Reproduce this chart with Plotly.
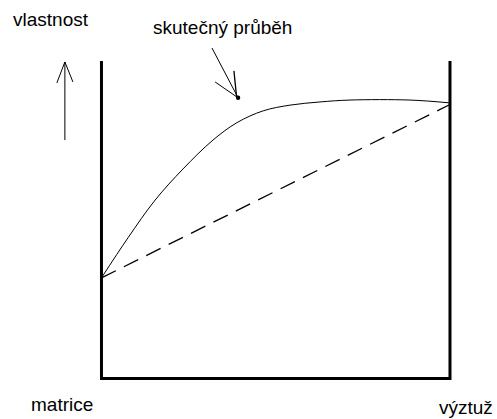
import plotly.graph_objects as go

# --- data (x: podíl výztuže 0..1, y: vlastnost v libovolných jednotkách) ---
real_x = [0.0, 0.076, 0.154, 0.234, 0.320, 0.389, 0.464, 0.541, 0.627, 0.713, 0.885, 1.0]
real_y = [3.17, 4.43, 5.62, 6.60, 7.51, 8.06, 8.43, 8.61, 8.71, 8.77, 8.77, 8.68]
mix_x = [0.0, 1.0]
mix_y = [3.17, 8.63]

label_y = "vlastnost"
label_curve = "skutečný průběh"
label_left = "matrice"
label_right = "výztuž"

FONT = "Liberation Sans, Arial, sans-serif"

fig = go.Figure()

fig.add_trace(go.Scatter(
    x=real_x, y=real_y, mode="lines",
    line=dict(color="black", width=1, shape="spline", smoothing=1.0),
    hoverinfo="skip", showlegend=False))

fig.add_trace(go.Scatter(
    x=mix_x, y=mix_y, mode="lines",
    line=dict(color="black", width=1.3, dash="16px,9px"),
    hoverinfo="skip", showlegend=False))

shapes = [
    # frame (left, bottom, right)
    dict(type="path", path="M 0,10 L 0,0 L 1,0 L 1,10",
         line=dict(color="black", width=3)),
    # up arrow
    dict(type="line", x0=-0.105, y0=7.51, x1=-0.105, y1=9.97, line=dict(color="black", width=1)),
    dict(type="line", x0=-0.128, y0=9.31, x1=-0.105, y1=9.97, line=dict(color="black", width=1)),
    dict(type="line", x0=-0.082, y0=9.34, x1=-0.105, y1=9.97, line=dict(color="black", width=1)),
    # pointer arrow
    dict(type="line", x0=0.317, y0=10.41, x1=0.392, y1=8.84, line=dict(color="black", width=1)),
    dict(type="line", x0=0.326, y0=9.34, x1=0.392, y1=8.84, line=dict(color="black", width=1)),
    dict(type="line", x0=0.380, y0=9.69, x1=0.388, y1=8.84, line=dict(color="black", width=1.3)),
    dict(type="circle", xref="x", yref="y", xsizemode="pixel", ysizemode="pixel",
         xanchor=0.392, yanchor=8.84, x0=-2.2, x1=2.2, y0=-2.2, y1=2.2,
         fillcolor="black", line=dict(color="black", width=0)),
]

annotations = [
    dict(x=-0.145, y=11.31, text=label_y),
    dict(x=0.347, y=11.06, text=label_curve),
    dict(x=-0.113, y=-0.816, text=label_left),
    dict(x=1.045, y=-0.91, text=label_right),
]
for a in annotations:
    a.update(xref="x", yref="y", showarrow=False, xanchor="center", yanchor="middle",
             font=dict(family=FONT, size=19, color="black"))

fig.update_layout(
    width=497, height=419,
    margin=dict(l=0, r=0, t=0, b=0, pad=0),
    paper_bgcolor="white", plot_bgcolor="white",
    xaxis=dict(range=[-0.2912, 1.1349], visible=False, fixedrange=True),
    yaxis=dict(range=[-1.2756, 11.921], visible=False, fixedrange=True),
    shapes=shapes, annotations=annotations,
)

fig.write_html("out.html", config={"displayModeBar": False},
               post_script="document.body.style.margin='0';")
